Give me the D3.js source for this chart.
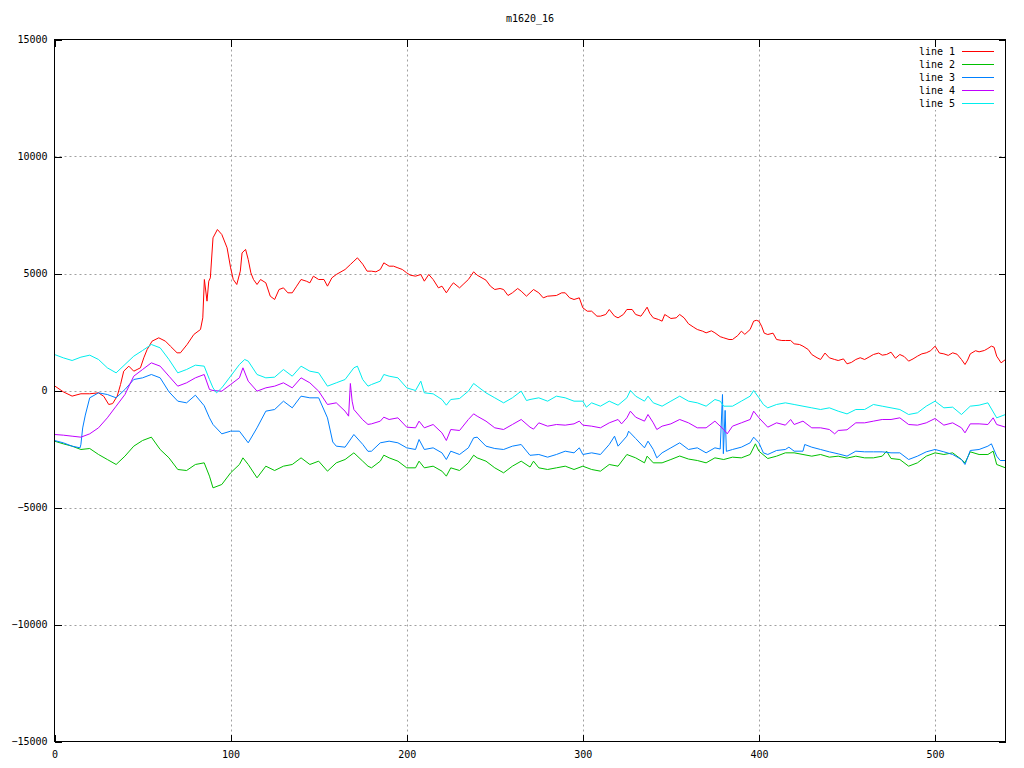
<!DOCTYPE html>
<html><head><meta charset="utf-8">
<script src="https://cdn.jsdelivr.net/npm/d3@7"></script>
<style>
html,body{margin:0;padding:0;background:#fff;}
svg text{font-family:"DejaVu Sans Mono",monospace;font-size:10px;fill:#000;}
</style></head>
<body>
<svg id="chart" width="1024" height="768"></svg>
<script>
const titleText = "m1620_16";
const seriesNames = ["line 1","line 2","line 3","line 4","line 5"];
const seriesColors = ["#ff0000","#00c000","#0080ff","#c000ff","#00eeee"];
const xTicks = [0,100,200,300,400,500];
const yTicks = [-15000,-10000,-5000,0,5000,10000,15000];

const line1 = [[0,200],[5,-57],[10,-240],[15,-140],[20,-140],[25,-100],[28,-250],[30.8,-598],[33,-560],[35.6,-242],[37.5,256],[39.3,826],[42.2,1040],[45,826],[46.9,897],[48.8,969],[50.7,1396],[52.6,1752],[55.4,2108],[59.2,2251],[63,2108],[65.8,1895],[69.6,1610],[71.5,1610],[75.3,1966],[79.1,2393],[82.9,2607],[84.2,3105],[85.1,4744],[86.6,3818],[87.6,4672],[88.5,4815],[90,6524],[92.5,6880],[95,6667],[98,6097],[100,5242],[101.5,4744],[103.5,4530],[105.5,5100],[106.5,5880],[108.5,6030],[110,5598],[111.5,5028],[113,4744],[115,4530],[117,4744],[120,4601],[122.5,4031],[125,3889],[127.5,4316],[130,4387],[132.5,4174],[135,4174],[137.5,4459],[140,4744],[143,4672],[145,4601],[147,4886],[150,4744],[153,4744],[155,4459],[157.5,4815],[160,4957],[165,5171],[168,5384],[170,5527],[172,5670],[175,5400],[177.5,5100],[180,5100],[182.5,5071],[185,5171],[187,5456],[190,5313],[192.5,5313],[195,5242],[197.5,5171],[200,5028],[202,4929],[205,4886],[208,4957],[210,4672],[212.5,4957],[215,4744],[218,4387],[220,4459],[222.5,4174],[225,4459],[226.5,4601],[230,4387],[232,4530],[235,4744],[238,5071],[240,4929],[245,4715],[247.5,4459],[250,4316],[253,4359],[255,4316],[257.5,4060],[260,4174],[263,4359],[265,4245],[268,4031],[270,4174],[272,4316],[275,4174],[277.5,3960],[280,4031],[285,4060],[288,4174],[290,4174],[292.5,3960],[295,3889],[298,3960],[300,3533],[302.5,3390],[305,3390],[308,3177],[310,3177],[313,3248],[315,3462],[318,3177],[320,3105],[323,3248],[325,3462],[328,3462],[330,3248],[333,3177],[335,3390],[336.5,3561],[338,3300],[340,3105],[343,3034],[345,2963],[346.5,3248],[348,3177],[350,3077],[353,3105],[355,3248],[357.5,3105],[360,2850],[363,2700],[365,2607],[368,2536],[370,2464],[373,2550],[375,2464],[378,2300],[380,2251],[383,2180],[385,2180],[388,2350],[390,2536],[392,2400],[395,2607],[397,2963],[398.5,3000],[400,2963],[401.5,2750],[403,2450],[405,2393],[408,2450],[410,2180],[413,2137],[415,2137],[418,2137],[420,1994],[423,1966],[425,1895],[428,1750],[430,1538],[433,1400],[435,1325],[437.5,1600],[440,1396],[443,1325],[445,1282],[448,1350],[450,1140],[452.5,1200],[455,1325],[457.5,1400],[460,1325],[463,1450],[465,1538],[468,1600],[470,1510],[472.5,1540],[475,1638],[477.5,1380],[480,1538],[482.5,1450],[485,1254],[487.5,1350],[490,1467],[492.5,1567],[495,1610],[497.5,1700],[500,1895],[502.5,1600],[505,1567],[507.5,1500],[510,1610],[512.5,1550],[515,1325],[517,1111],[518.5,1300],[520,1567],[523,1700],[525,1652],[528,1710],[530,1795],[532,1895],[533.5,1850],[535,1467],[537.5,1182],[540,1325]];

const line2 = [[0,-2165],[5,-2279],[10,-2379],[15,-2521],[20,-2479],[25,-2735],[30,-2949],[35,-3162],[40,-2806],[45,-2379],[50,-2137],[55,-1994],[60,-2521],[65,-2878],[70,-3376],[75,-3419],[80,-3162],[85,-3091],[88,-3661],[90,-4160],[95,-4017],[100,-3518],[105,-3162],[107,-2878],[110,-3162],[115,-3732],[120,-3234],[125,-3419],[130,-3234],[135,-3162],[140,-2878],[145,-3162],[150,-3020],[155,-3447],[160,-3091],[165,-2949],[170,-2664],[175,-3020],[178,-3234],[180,-3305],[185,-3020],[187,-2764],[190,-2878],[195,-3020],[200,-3305],[205,-3305],[207,-3020],[210,-3305],[215,-3234],[220,-3447],[222.5,-3661],[225,-3305],[230,-3419],[235,-3091],[238,-2764],[240,-2878],[245,-3020],[250,-3305],[255,-3518],[260,-3234],[265,-3020],[270,-3270],[272,-3020],[275,-3305],[280,-3376],[285,-3305],[290,-3234],[295,-3376],[300,-3234],[305,-3376],[310,-3447],[315,-3162],[320,-3234],[325,-2735],[330,-2878],[335,-3091],[336.5,-2806],[340,-3091],[345,-3091],[350,-2949],[355,-2800],[360,-2930],[365,-2992],[370,-3091],[375,-2878],[380,-2949],[385,-2849],[390,-2878],[395,-2735],[398,-2279],[400,-2593],[405,-2906],[410,-2806],[415,-2664],[420,-2664],[425,-2735],[430,-2806],[435,-2735],[440,-2849],[445,-2806],[450,-2890],[455,-2806],[460,-2878],[465,-2878],[470,-2806],[472.5,-2593],[475,-2906],[480,-2949],[485,-3234],[490,-3091],[495,-2806],[500,-2664],[505,-2735],[510,-2664],[515,-2949],[517,-3091],[520,-2621],[525,-2735],[530,-2735],[533,-2593],[535,-3162],[540,-3305]];

const line3 = [[0,-2137],[5,-2236],[10,-2379],[14.5,-2450],[15,-2300],[16,-1600],[17.5,-1050],[20,-313],[25,-100],[30,-171],[35,-313],[40,43],[45,470],[50,541],[55,684],[60,541],[65,-57],[70,-456],[75,-527],[80,-199],[85,-650],[88,-1168],[90,-1453],[95,-1852],[100,-1738],[105,-1738],[110,-2236],[115,-1595],[120,-883],[125,-812],[130,-456],[135,-741],[140,-242],[145,-313],[150,-313],[155,-1168],[158,-2200],[160,-2379],[165,-2422],[170,-1880],[175,-2300],[178,-2600],[180,-2593],[185,-2236],[190,-2165],[195,-2236],[200,-2450],[205,-2521],[207,-2094],[210,-2521],[215,-2450],[220,-2664],[222.5,-2949],[225,-2593],[230,-2735],[235,-2450],[238,-2023],[240,-1994],[245,-2379],[250,-2479],[255,-2521],[260,-2379],[265,-2308],[270,-2770],[275,-2735],[280,-2849],[285,-2735],[290,-2593],[295,-2664],[298,-2450],[300,-2735],[305,-2664],[310,-2735],[315,-2308],[318,-1952],[320,-2379],[325,-1951],[326,-1738],[330,-2051],[335,-2450],[337,-2165],[340,-2521],[342,-2878],[345,-2664],[350,-2450],[355,-2236],[360,-2521],[365,-2450],[370,-2664],[375,-2450],[378,-2500],[379.3,-171],[379.8,-2700],[380.8,-850],[381.5,-2600],[385,-2521],[390,-2422],[395,-2236],[397,-1994],[400,-2236],[402.5,-2664],[405,-2735],[410,-2564],[415,-2521],[417,-2422],[420,-2593],[425,-2593],[426,-2308],[430,-2422],[435,-2521],[440,-2621],[445,-2707],[450,-2806],[455,-2593],[460,-2621],[465,-2621],[470,-2621],[475,-2664],[480,-2664],[485,-2949],[490,-2806],[495,-2621],[500,-2521],[505,-2621],[510,-2735],[515,-2949],[517,-3162],[520,-2564],[525,-2521],[530,-2379],[532,-2279],[535,-2806],[537,-2992],[540,-2992]];

const line4 = [[0,-1880],[5,-1909],[10,-1952],[15,-1994],[20,-1852],[25,-1595],[30,-1168],[35,-670],[40,-171],[45,612],[50,897],[55,1182],[60,1040],[65,612],[70,185],[75,328],[80,541],[85,684],[88,43],[90,0],[95,-28],[100,256],[105,541],[107,969],[110,399],[115,-28],[120,114],[125,185],[130,328],[135,114],[140,541],[145,328],[150,-28],[155,-598],[160,-527],[165,-883],[167,-1097],[168,300],[169,-456],[170,-812],[175,-1250],[178,-1450],[180,-1425],[185,-1310],[187,-1140],[190,-1239],[195,-1168],[200,-1567],[205,-1595],[207,-1310],[210,-1595],[215,-1453],[220,-1809],[222.5,-2137],[225,-1667],[230,-1709],[235,-1239],[238,-997],[240,-1097],[245,-1310],[250,-1595],[255,-1667],[260,-1453],[265,-1239],[270,-1567],[272,-1650],[275,-1382],[280,-1524],[285,-1453],[290,-1481],[295,-1425],[298,-1310],[300,-1481],[305,-1524],[310,-1595],[315,-1382],[320,-1239],[322,-1425],[325,-1168],[327,-883],[330,-1140],[335,-1310],[337,-1026],[340,-1382],[342,-1667],[345,-1524],[350,-1425],[355,-1239],[360,-1382],[365,-1595],[370,-1595],[375,-1310],[380,-1667],[382,-1852],[385,-1524],[390,-1382],[395,-1239],[397,-883],[400,-1168],[405,-1567],[410,-1382],[415,-1481],[418,-1239],[420,-1453],[425,-1310],[430,-1595],[435,-1595],[440,-1667],[443,-1852],[445,-1709],[450,-1680],[455,-1382],[460,-1382],[465,-1310],[470,-1239],[475,-1239],[480,-1168],[485,-1453],[490,-1481],[495,-1382],[500,-1197],[505,-1481],[510,-1382],[515,-1595],[517,-1809],[520,-1425],[525,-1425],[530,-1453],[533,-1168],[535,-1453],[540,-1567]];

const line5 = [[0,1538],[5,1396],[10,1282],[15,1425],[20,1510],[25,1325],[30,969],[35,755],[40,1111],[45,1467],[50,1709],[55,1966],[60,1823],[65,1325],[70,755],[75,897],[80,1083],[85,1040],[88,470],[90,114],[92,-100],[95,114],[100,612],[105,1111],[108,1325],[110,1254],[115,684],[120,541],[125,570],[130,897],[135,612],[140,1040],[145,826],[150,755],[155,185],[160,328],[165,470],[170,969],[172,1040],[175,470],[178,185],[180,256],[185,399],[187,684],[190,612],[195,541],[200,114],[205,0],[208,399],[210,-100],[215,-142],[220,-385],[222.5,-627],[225,-385],[230,-342],[235,-28],[238,300],[240,185],[245,-100],[250,-313],[255,-527],[260,-313],[265,-28],[268,-430],[270,-385],[275,-313],[280,-456],[285,-242],[290,-313],[295,-456],[300,-456],[302,-712],[305,-527],[310,-670],[315,-456],[320,-627],[325,-313],[327,0],[330,-242],[335,-456],[337,-242],[340,-527],[345,-670],[350,-456],[355,-242],[360,-456],[365,-527],[370,-670],[375,-385],[378,-456],[380,-670],[385,-670],[390,-456],[395,-242],[397,0],[400,-313],[402.5,-598],[405,-741],[410,-598],[415,-527],[420,-598],[425,-670],[430,-741],[435,-812],[440,-741],[445,-883],[450,-1000],[455,-812],[460,-812],[465,-598],[470,-670],[475,-741],[480,-812],[485,-1026],[490,-954],[495,-670],[500,-456],[505,-741],[510,-712],[515,-1026],[520,-670],[525,-627],[530,-527],[535,-1168],[540,-1026]];

const allSeries = [line1,line2,line3,line4,line5];

const L = 54.5, R = 1005.5, T = 39.5, B = 741.5;
const svg = d3.select("#chart");
const x = d3.scaleLinear().domain([0,540]).range([L,R]);
const y = d3.scaleLinear().domain([-15000,15000]).range([B,T]);

// grid
const grid = svg.append("g").attr("stroke","#a0a0a0").attr("stroke-width",1).attr("stroke-dasharray","2,3");
grid.selectAll(".gx").data(xTicks.filter(v=>v>0)).enter().append("line")
  .attr("x1",d=>Math.round(x(d))+0.5).attr("x2",d=>Math.round(x(d))+0.5).attr("y1",T).attr("y2",B);
grid.selectAll(".gy").data(yTicks.filter(v=>v>-15000 && v<15000)).enter().append("line")
  .attr("y1",d=>Math.round(y(d))+0.5).attr("y2",d=>Math.round(y(d))+0.5).attr("x1",L).attr("x2",R);

// legend blank
svg.append("rect").attr("x",915).attr("y",44).attr("width",84).attr("height",66).attr("fill","#fff");

// axes
function styleAxis(g){ g.select(".domain").remove(); g.selectAll("line").attr("stroke","#000").attr("shape-rendering","crispEdges"); g.selectAll("text").attr("font-family","DejaVu Sans Mono").attr("font-size",10); }
svg.append("g").attr("transform",`translate(${L},0)`).call(d3.axisLeft(y).tickValues(yTicks).tickSize(-7).tickPadding(7).tickFormat(d3.format("d"))).call(styleAxis);
svg.append("g").attr("transform",`translate(${R},0)`).call(d3.axisRight(y).tickValues(yTicks).tickSize(-7).tickFormat("")).call(styleAxis);
svg.append("g").attr("transform",`translate(0,${B})`).call(d3.axisBottom(x).tickValues(xTicks).tickSize(-7).tickPadding(9).tickFormat(d3.format("d"))).call(styleAxis);
svg.append("g").attr("transform",`translate(0,${T})`).call(d3.axisTop(x).tickValues(xTicks).tickSize(-7).tickFormat("")).call(styleAxis);

// series
const lineGen = d3.line().x(d=>x(d[0])).y(d=>y(d[1]));
svg.append("g").selectAll("path").data(allSeries).enter().append("path")
  .attr("d",lineGen).attr("fill","none").attr("stroke",(d,i)=>seriesColors[i]).attr("stroke-width",1);

// border
svg.append("rect").attr("x",L).attr("y",T).attr("width",R-L).attr("height",B-T)
  .attr("fill","none").attr("stroke","#000").attr("stroke-width",1);

// title
svg.append("text").attr("x",530).attr("y",22).attr("text-anchor","middle").text(titleText);

// legend
const leg = svg.append("g").selectAll("g").data(seriesNames).enter().append("g")
  .attr("transform",(d,i)=>`translate(0,${51.5+13*i})`);
leg.append("text").attr("x",955).attr("dy","0.32em").attr("text-anchor","end").text(d=>d);
leg.append("line").attr("x1",962).attr("x2",994).attr("y1",0).attr("y2",0)
  .attr("stroke",(d,i)=>seriesColors[i]).attr("stroke-width",1);
</script>
</body></html>
